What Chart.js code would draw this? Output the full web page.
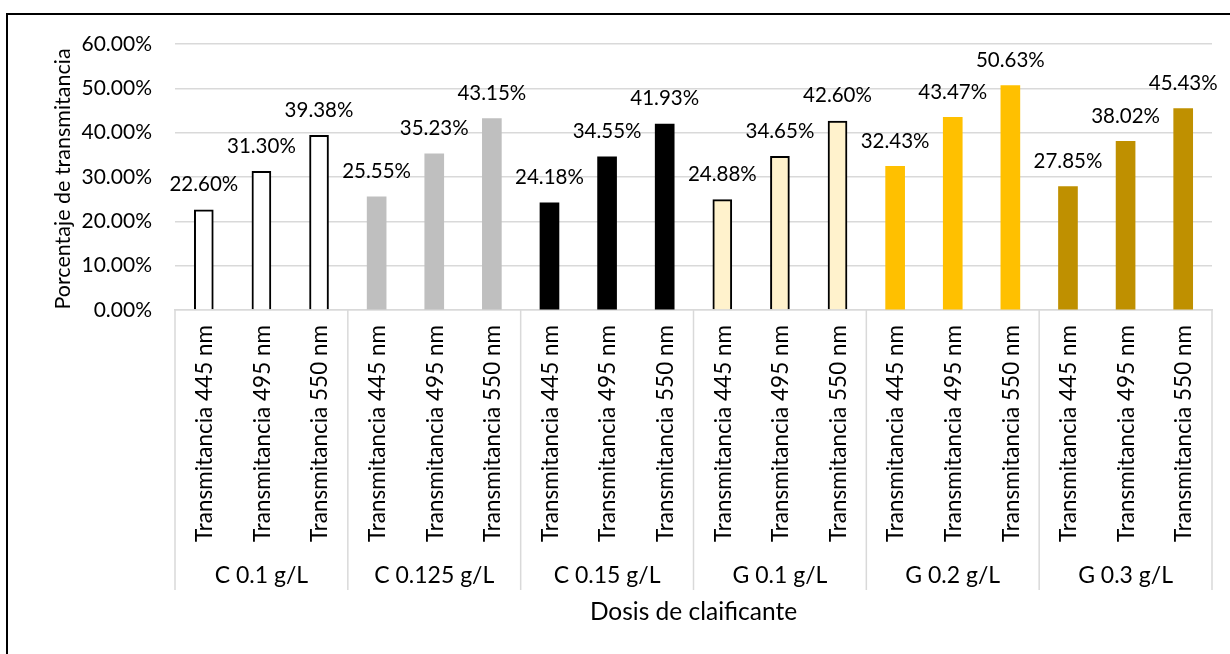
<!DOCTYPE html>
<html>
<head>
<meta charset="utf-8">
<script src="https://cdn.jsdelivr.net/npm/chart.js@4.4.1/dist/chart.umd.min.js"></script>
<style>
  html, body { margin: 0; padding: 0; background: #fff; }
  #wrap { width: 1230px; height: 654px; }
</style>
</head>
<body>
<div id="wrap"><canvas id="chart" width="1230" height="654"></canvas></div>
<script>
// Dose groups (outer category level) and wavelengths (inner level)
const groups = ['C 0.1 g/L', 'C 0.125 g/L', 'C 0.15 g/L', 'G 0.1 g/L', 'G 0.2 g/L', 'G 0.3 g/L'];
const wavelengths = ['Transmitancia 445 nm', 'Transmitancia 495 nm', 'Transmitancia 550 nm'];

// Transmittance (%) per dose, ordered 445 / 495 / 550 nm
const c01 = [22.60, 31.30, 39.38];
const c0125 = [25.55, 35.23, 43.15];
const c015 = [24.18, 34.55, 41.93];
const g01 = [24.88, 34.65, 42.60];
const g02 = [32.43, 43.47, 50.63];
const g03 = [27.85, 38.02, 45.43];

// Y axis range (%)
const yMin = 0;
const yMax = 60;
const yStep = 10;

const yTitle = 'Porcentaje de transmitancia';
const xTitle = 'Dosis de claificante';

// Per-group bar styling
const fills = ['#ffffff', '#bfbfbf', '#000000', '#fff2cc', '#ffc000', '#bf9000'];
const outlines = ['#000000', '#bfbfbf', '#000000', '#000000', '#ffc000', '#bf9000'];
const outlineW = [2, 0, 0, 2, 0, 0];

const seriesByGroup = [c01, c0125, c015, g01, g02, g03];
const labels = [];
const values = [];
const bg = [], bc = [], bw = [];
seriesByGroup.forEach((arr, g) => {
  arr.forEach((v, k) => {
    labels.push(wavelengths[k]);
    values.push(v);
    bg.push(fills[g]);
    bc.push(outlines[g]);
    bw.push(outlineW[g]);
  });
});

const FONT = 'Lato, "Open Sans", sans-serif';
const GRID = '#d9d9d9';

const decorations = {
  id: 'decorations',
  beforeDraw(chart) {
    const ctx = chart.ctx;
    ctx.save();
    ctx.fillStyle = '#ffffff';
    ctx.fillRect(0, 0, chart.width, chart.height);
    // outer frame
    ctx.fillStyle = '#000000';
    ctx.fillRect(6, 13, chart.width - 6, 2);
    ctx.fillRect(6, 13, 2, chart.height - 13);
    ctx.restore();
  },
  afterDraw(chart) {
    const ctx = chart.ctx;
    const area = chart.chartArea;
    const xs = chart.scales.x;
    const meta = chart.getDatasetMeta(0);
    const n = labels.length;
    const per = wavelengths.length;
    ctx.save();

    // group separators in the category axis
    ctx.strokeStyle = GRID;
    ctx.lineWidth = 1.5;
    for (let g = 0; g <= groups.length; g++) {
      let x;
      if (g === 0) x = area.left;
      else if (g === groups.length) x = area.right;
      else x = (xs.getPixelForValue(g * per - 1) + xs.getPixelForValue(g * per)) / 2;
      ctx.beginPath();
      ctx.moveTo(x, area.bottom);
      ctx.lineTo(x, area.bottom + 280);
      ctx.stroke();
    }

    // inner labels (rotated)
    ctx.fillStyle = '#000000';
    ctx.font = '22.5px ' + FONT;
    ctx.textAlign = 'right';
    ctx.textBaseline = 'middle';
    for (let i = 0; i < n; i++) {
      const x = xs.getPixelForValue(i);
      ctx.save();
      ctx.translate(x + 1, area.bottom + 15);
      ctx.rotate(-Math.PI / 2);
      ctx.fillText(labels[i], 0, 0);
      ctx.restore();
    }

    // outer group labels
    ctx.textAlign = 'center';
    ctx.font = '23px ' + FONT;
    for (let g = 0; g < groups.length; g++) {
      const x = xs.getPixelForValue(g * per + 1);
      ctx.fillText(groups[g], x, area.bottom + 266);
    }

    // axis titles
    ctx.font = '24.5px ' + FONT;
    ctx.fillText(xTitle, (area.left + area.right) / 2, area.bottom + 302);
    ctx.save();
    ctx.translate(63, (area.top + area.bottom) / 2 + 2);
    ctx.rotate(-Math.PI / 2);
    ctx.font = '21.5px ' + FONT;
    ctx.fillText(yTitle, 0, 0);
    ctx.restore();

    // value labels above bars
    ctx.font = '20.5px ' + FONT;
    ctx.textBaseline = 'bottom';
    meta.data.forEach((bar, i) => {
      ctx.fillText(values[i].toFixed(2) + '%', bar.x, bar.y - 15);
    });
    ctx.restore();
  }
};

new Chart(document.getElementById('chart'), {
  type: 'bar',
  data: {
    labels: labels,
    datasets: [{
      data: values,
      backgroundColor: bg,
      borderColor: bc,
      borderWidth: bw,
      barThickness: 19
    }]
  },
  options: {
    responsive: false,
    animation: false,
    devicePixelRatio: 1,
    layout: { padding: { top: 44, right: 18, bottom: 0, left: 0 } },
    plugins: { legend: { display: false }, tooltip: { enabled: false } },
    scales: {
      x: {
        grid: { display: false },
        border: { display: true, color: GRID, width: 1.5 },
        ticks: { display: false },
        afterFit(s) { s.height = 344; }
      },
      y: {
        min: yMin,
        max: yMax,
        ticks: {
          stepSize: yStep,
          padding: 23,
          color: '#000000',
          font: { family: FONT, size: 21 },
          callback: v => v.toFixed(2) + '%'
        },
        grid: { color: GRID, lineWidth: 1.5, drawTicks: false },
        border: { display: false },
        afterFit(s) { s.width = 175; }
      }
    }
  },
  plugins: [decorations]
});
</script>
</body>
</html>
